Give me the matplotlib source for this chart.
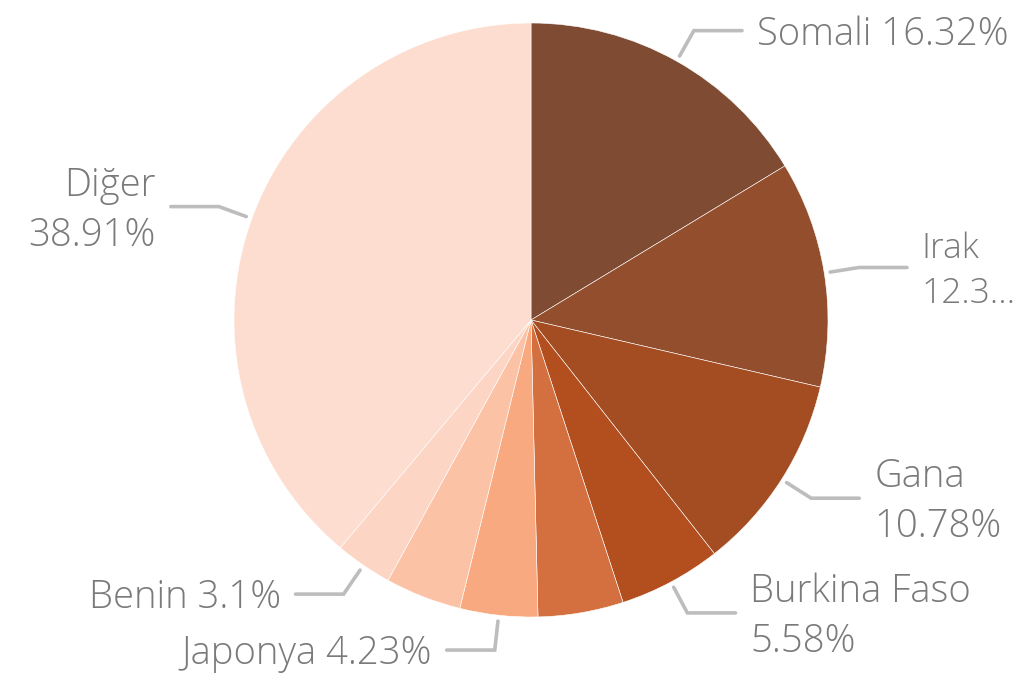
import numpy as np
import matplotlib
matplotlib.use("Agg")
import matplotlib.pyplot as plt

categories = ["Somali", "Irak", "Gana", "Burkina Faso", "Diğer A", "Japonya", "Diğer B", "Benin", "Diğer"]
values = [16.32, 12.31, 10.78, 5.58, 4.64, 4.23, 4.14, 3.10, 38.91]
label_texts = ["Somali 16.32%", "Irak\n12.3…", "Gana\n10.78%", "Burkina Faso\n5.58%",
               None, "Japonya 4.23%", None, "Benin 3.1%", "Diğer\n38.91%"]
colors = ["#7F4B32", "#934E2E", "#A54D22", "#B34E1F", "#D4703F",
          "#F9A97F", "#FBC2A5", "#FDD5C4", "#FDDDD0"]

W, H = 1020, 680
fig = plt.figure(figsize=(W / 100, H / 100), dpi=100)
ax = fig.add_axes([0, 0, 1, 1])

cx, cy, R = 531, 320, 297  # pixels
wedges, _ = ax.pie(values, colors=colors, startangle=90, counterclock=False,
                   wedgeprops=dict(edgecolor="white", linewidth=0.4))
ax.set_xlim(-cx / R, (W - cx) / R)
ax.set_ylim(-(H - cy) / R, cy / R)
ax.set_aspect("equal")
ax.axis("off")

fam = ["Open Sans", "DejaVu Sans"]
r0, r1, hlen, gap = 1.02, 1.118, 0.162, 0.05
renderer = fig.canvas.get_renderer()
for w, txt in zip(wedges, label_texts):
    if txt is None:
        continue
    ang = np.deg2rad((w.theta1 + w.theta2) / 2)
    x0, y0 = r0 * np.cos(ang), r0 * np.sin(ang)
    x1, y1 = r1 * np.cos(ang), r1 * np.sin(ang)
    side = 1 if x1 >= 0 else -1
    x2 = x1 + side * hlen
    ax.plot([x0, x1, x2], [y0, y1, y1], color="#BDBDBD", lw=2.6,
            solid_capstyle="round", solid_joinstyle="miter")
    t = ax.text(x2 + side * gap, y1 - 0.013, txt, ha="left" if side > 0 else "right",
                va="center", fontsize=27.5, color="#7A7A7A", family=fam,
                fontweight="light", linespacing=1.38)
    # shrink to fit inside the figure if needed
    for _ in range(10):
        bb = t.get_window_extent(renderer)
        if bb.x1 <= W - 3 and bb.x0 >= 3:
            break
        t.set_fontsize(t.get_fontsize() - 0.5)

fig.savefig("out.png", dpi=100, facecolor="white")
